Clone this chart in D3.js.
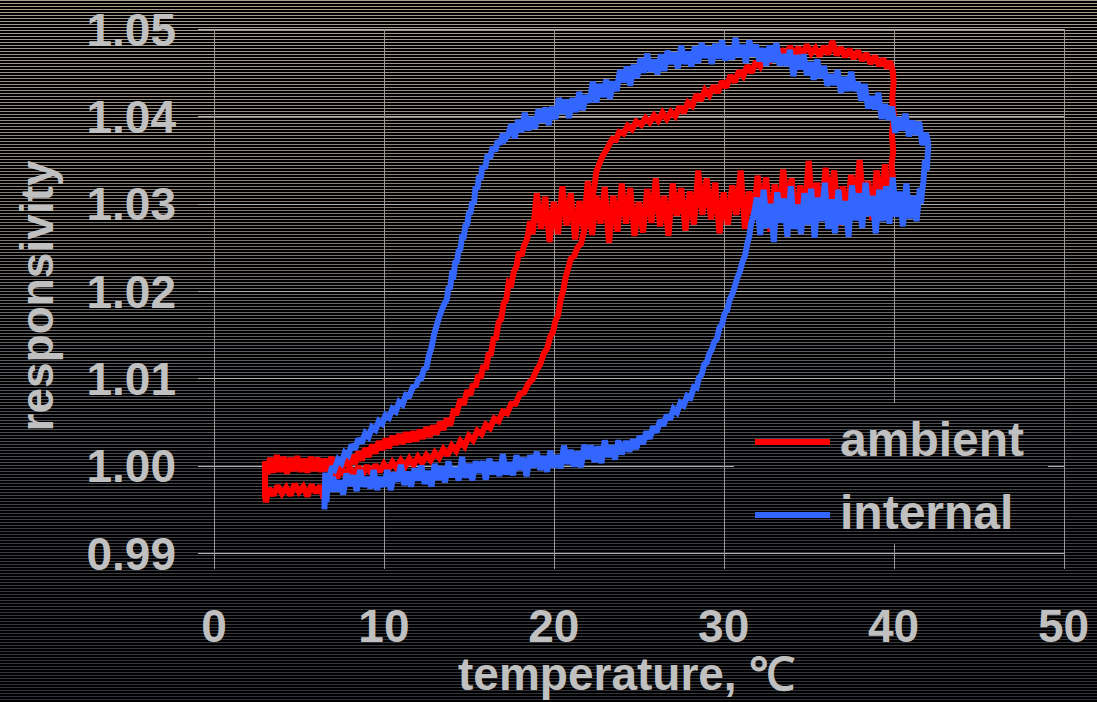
<!DOCTYPE html>
<html><head><meta charset="utf-8">
<script src="https://cdn.jsdelivr.net/npm/d3@7"></script>
<style>html,body{margin:0;padding:0;background:#000;}svg{display:block;}</style>
</head><body>
<svg id="chart" width="1097" height="702"></svg>
<script>
// ---- data ----
const xTicks = [0, 10, 20, 30, 40, 50];
const yTicks = [0.99, 1.00, 1.01, 1.02, 1.03, 1.04, 1.05];
const yTickLabels = ["0.99", "1.00", "1.01", "1.02", "1.03", "1.04", "1.05"];
const seriesNames = ["ambient", "internal"];
const seriesColors = ["#ff0000", "#3366ff"];
const xTitle = "temperature, \u2103";
const yTitle = "responsivity";

// ambient: heating branch [T, V]
const ambientHeat = [[3.00,0.9985],[3.05,0.9958],[3.25,0.9974],[3.50,0.9966],[3.75,0.9977],[4.00,0.9968],[4.25,0.9975],[4.50,0.9966],[4.75,0.9979],[5.00,0.9970],[5.25,0.9976],[5.50,0.9965],[5.75,0.9978],[6.00,0.9969],[6.25,0.9977],[6.45,0.9962],[6.55,0.9990],[6.75,0.9983],[7.00,0.9996],[7.25,0.9986],[7.50,0.9997],[7.75,0.9988],[8.00,0.9998],[8.25,0.9989],[8.50,0.9999],[8.75,0.9990],[9.00,1.0000],[9.25,0.9991],[9.50,1.0001],[9.75,0.9993],[10.00,1.0002],[10.25,0.9995],[10.50,1.0004],[10.75,0.9997],[11.00,1.0006],[11.25,0.9999],[11.50,1.0008],[11.75,1.0001],[12.00,1.0010],[12.25,1.0003],[12.50,1.0012],[12.75,1.0006],[13.00,1.0015],[13.25,1.0009],[13.50,1.0019],[13.75,1.0012],[14.00,1.0023],[14.25,1.0017],[14.50,1.0028],[14.75,1.0022],[15.00,1.0034],[15.25,1.0029],[15.50,1.0040],[15.75,1.0036],[16.00,1.0047],[16.25,1.0043],[16.50,1.0054],[16.75,1.0051],[17.00,1.0062],[17.25,1.0060],[17.50,1.0071],[17.75,1.0071],[18.00,1.0082],[18.25,1.0084],[18.50,1.0094],[18.75,1.0099],[19.00,1.0110],[19.20,1.0116],[19.40,1.0128],[19.60,1.0134],[19.80,1.0148],[19.95,1.0153],[20.10,1.0166],[20.25,1.0172],[20.40,1.0190],[20.55,1.0200],[20.70,1.0216],[20.85,1.0226],[21.00,1.0237],[21.20,1.0240],[21.40,1.0250],[21.60,1.0254],[21.80,1.0270],[21.95,1.0280],[22.10,1.0298],[22.25,1.0304],[22.40,1.0322],[22.50,1.0336],[22.65,1.0344],[22.85,1.0354],[23.05,1.0360],[23.25,1.0367],[23.45,1.0374],[23.65,1.0373],[23.85,1.0382],[24.10,1.0380],[24.35,1.0389],[24.60,1.0385],[24.85,1.0394],[25.15,1.0390],[25.40,1.0398],[25.65,1.0393],[25.90,1.0401],[26.15,1.0395],[26.40,1.0404],[26.65,1.0397],[26.90,1.0405],[27.15,1.0400],[27.40,1.0411],[27.65,1.0404],[27.90,1.0416],[28.15,1.0412],[28.40,1.0425],[28.65,1.0418],[28.90,1.0430],[29.15,1.0424],[29.40,1.0435],[29.65,1.0427],[29.90,1.0440],[30.15,1.0433],[30.40,1.0447],[30.65,1.0439],[30.90,1.0452],[31.15,1.0446],[31.40,1.0458],[31.65,1.0450],[31.90,1.0463],[32.15,1.0457],[32.40,1.0468],[32.65,1.0461],[32.90,1.0472],[33.15,1.0465],[33.40,1.0477],[33.65,1.0469],[33.90,1.0480],[34.15,1.0471],[34.40,1.0479],[34.65,1.0470],[34.90,1.0482],[35.15,1.0472],[35.40,1.0478],[35.65,1.0469],[35.90,1.0480],[36.15,1.0471],[36.40,1.0486],[36.65,1.0470],[36.90,1.0479],[37.15,1.0468],[37.40,1.0477],[37.65,1.0466],[37.90,1.0475],[38.15,1.0464],[38.40,1.0472],[38.65,1.0460],[38.90,1.0469],[39.15,1.0458],[39.40,1.0466],[39.60,1.0455],[39.80,1.0463],[39.95,1.0452],[40.00,1.0440],[39.92,1.0420],[40.02,1.0400],[39.90,1.0380],[39.98,1.0360],[39.88,1.0345],[39.95,1.0330],[39.90,1.0318]];

// ambient: cooling branch [T, V]
const ambientCool = [[39.95,1.0334],[39.75,1.0293],[39.50,1.0345],[39.25,1.0301],[39.00,1.0338],[38.75,1.0281],[38.50,1.0326],[38.25,1.0294],[38.00,1.0350],[37.75,1.0296],[37.50,1.0333],[37.25,1.0283],[37.00,1.0320],[36.75,1.0275],[36.50,1.0338],[36.25,1.0300],[36.00,1.0341],[35.75,1.0286],[35.50,1.0324],[35.25,1.0291],[35.00,1.0349],[34.75,1.0281],[34.50,1.0321],[34.25,1.0277],[34.00,1.0329],[33.75,1.0298],[33.50,1.0339],[33.25,1.0285],[33.00,1.0322],[32.75,1.0268],[32.50,1.0330],[32.25,1.0291],[32.00,1.0332],[31.75,1.0284],[31.50,1.0314],[31.25,1.0271],[31.00,1.0338],[30.75,1.0287],[30.50,1.0321],[30.25,1.0276],[30.00,1.0313],[29.75,1.0266],[29.50,1.0324],[29.25,1.0282],[29.00,1.0329],[28.75,1.0287],[28.50,1.0338],[28.25,1.0276],[28.00,1.0314],[27.75,1.0269],[27.50,1.0318],[27.25,1.0286],[27.00,1.0323],[26.75,1.0263],[26.50,1.0309],[26.25,1.0274],[26.00,1.0329],[25.75,1.0278],[25.50,1.0317],[25.25,1.0267],[25.00,1.0302],[24.75,1.0263],[24.50,1.0318],[24.25,1.0277],[24.00,1.0323],[23.75,1.0268],[23.50,1.0309],[23.25,1.0255],[23.00,1.0319],[22.75,1.0277],[22.50,1.0309],[22.25,1.0264],[22.00,1.0326],[21.75,1.0271],[21.50,1.0303],[21.25,1.0259],[21.00,1.0312],[20.75,1.0275],[20.50,1.0320],[20.25,1.0265],[20.00,1.0302],[19.75,1.0256],[19.50,1.0308],[19.25,1.0271],[19.00,1.0312],[18.75,1.0265],[18.60,1.0280],[18.50,1.0266],[18.40,1.0258],[18.25,1.0252],[18.10,1.0240],[17.95,1.0245],[17.80,1.0228],[17.65,1.0222],[17.50,1.0208],[17.35,1.0210],[17.20,1.0190],[17.05,1.0186],[16.90,1.0168],[16.75,1.0164],[16.60,1.0146],[16.45,1.0145],[16.30,1.0128],[16.15,1.0127],[16.00,1.0110],[15.85,1.0115],[15.70,1.0100],[15.55,1.0104],[15.40,1.0090],[15.25,1.0094],[15.10,1.0081],[14.90,1.0086],[14.70,1.0070],[14.50,1.0076],[14.30,1.0061],[14.10,1.0062],[13.90,1.0046],[13.70,1.0054],[13.50,1.0041],[13.30,1.0050],[13.10,1.0036],[12.90,1.0046],[12.70,1.0033],[12.50,1.0044],[12.30,1.0031],[12.10,1.0041],[11.90,1.0028],[11.70,1.0039],[11.50,1.0027],[11.30,1.0038],[11.10,1.0025],[10.90,1.0036],[10.70,1.0024],[10.50,1.0034],[10.30,1.0020],[10.10,1.0031],[9.90,1.0018],[9.70,1.0028],[9.50,1.0014],[9.30,1.0024],[9.10,1.0010],[8.90,1.0020],[8.70,1.0006],[8.50,1.0016],[8.30,1.0002],[8.10,1.0012],[7.90,0.9999],[7.70,1.0010],[7.50,0.9997],[7.30,1.0009],[7.10,0.9995],[6.90,1.0010],[6.70,0.9994],[6.50,1.0008],[6.30,0.9993],[6.10,1.0009],[5.90,0.9994],[5.70,1.0010],[5.50,0.9992],[5.30,1.0008],[5.10,0.9993],[4.90,1.0011],[4.70,0.9994],[4.50,1.0009],[4.30,0.9991],[4.10,1.0010],[3.90,0.9993],[3.70,1.0012],[3.50,0.9992],[3.30,1.0009],[3.15,0.9990],[3.00,1.0005],[3.00,0.9962]];

// internal: heating branch [T, V]
const internalHeat = [[6.50,0.9950],[6.55,0.9992],[6.62,0.9958],[6.70,0.9988],[6.85,0.9970],[7.00,0.9987],[7.20,0.9971],[7.40,0.9983],[7.60,0.9967],[7.80,0.9991],[8.00,0.9977],[8.20,0.9989],[8.40,0.9971],[8.60,0.9995],[8.80,0.9976],[9.00,0.9987],[9.20,0.9974],[9.40,0.9995],[9.60,0.9972],[9.80,0.9987],[10.00,0.9976],[10.20,0.9995],[10.40,0.9972],[10.60,0.9992],[10.80,0.9982],[11.00,1.0001],[11.20,0.9978],[11.40,0.9993],[11.60,0.9976],[11.80,0.9997],[12.00,0.9983],[12.20,1.0000],[12.40,0.9979],[12.60,0.9994],[12.80,0.9976],[13.00,1.0002],[13.20,0.9984],[13.40,0.9999],[13.60,0.9981],[13.80,1.0005],[14.00,0.9987],[14.20,0.9998],[14.40,0.9983],[14.60,1.0010],[14.80,0.9986],[15.00,1.0002],[15.20,0.9983],[15.40,1.0005],[15.60,0.9992],[15.80,1.0005],[16.00,0.9984],[16.20,1.0008],[16.40,0.9990],[16.60,1.0004],[16.80,0.9988],[17.00,1.0013],[17.20,0.9990],[17.40,1.0004],[17.60,0.9989],[17.80,1.0012],[18.00,0.9995],[18.20,1.0009],[18.40,0.9988],[18.60,1.0012],[18.80,0.9998],[19.00,1.0016],[19.20,0.9995],[19.40,1.0011],[19.60,0.9993],[19.80,1.0017],[20.00,0.9998],[20.20,1.0012],[20.40,0.9997],[20.60,1.0023],[20.80,1.0002],[21.00,1.0018],[21.20,0.9999],[21.40,1.0016],[21.60,0.9998],[21.80,1.0024],[22.00,1.0008],[22.20,1.0023],[22.40,1.0004],[22.60,1.0022],[22.80,1.0003],[23.00,1.0029],[23.20,1.0010],[23.40,1.0023],[23.60,1.0007],[23.80,1.0029],[24.00,1.0013],[24.25,1.0028],[24.45,1.0016],[24.65,1.0030],[24.85,1.0019],[25.05,1.0034],[25.25,1.0025],[25.45,1.0039],[25.65,1.0031],[25.85,1.0045],[26.05,1.0038],[26.25,1.0052],[26.45,1.0046],[26.65,1.0058],[26.85,1.0053],[27.05,1.0065],[27.25,1.0061],[27.45,1.0072],[27.65,1.0069],[27.85,1.0080],[28.05,1.0078],[28.25,1.0090],[28.40,1.0089],[28.55,1.0101],[28.70,1.0104],[28.85,1.0116],[29.00,1.0118],[29.15,1.0128],[29.30,1.0133],[29.45,1.0142],[29.60,1.0145],[29.75,1.0158],[29.90,1.0162],[30.05,1.0174],[30.20,1.0178],[30.35,1.0190],[30.50,1.0196],[30.65,1.0205],[30.80,1.0215],[30.95,1.0222],[31.10,1.0233],[31.25,1.0240],[31.40,1.0255],[31.50,1.0262],[31.60,1.0276],[31.70,1.0283],[31.80,1.0290],[31.95,1.0307],[32.15,1.0264],[32.35,1.0316],[32.55,1.0272],[32.75,1.0300],[32.95,1.0256],[33.15,1.0313],[33.35,1.0278],[33.55,1.0306],[33.75,1.0262],[33.95,1.0320],[34.15,1.0271],[34.35,1.0299],[34.55,1.0265],[34.75,1.0312],[34.95,1.0276],[35.15,1.0317],[35.35,1.0261],[35.55,1.0307],[35.75,1.0280],[35.95,1.0324],[36.15,1.0271],[36.35,1.0305],[36.55,1.0266],[36.75,1.0316],[36.95,1.0276],[37.15,1.0303],[37.35,1.0262],[37.55,1.0321],[37.75,1.0281],[37.95,1.0312],[38.15,1.0272],[38.35,1.0324],[38.55,1.0286],[38.75,1.0309],[38.95,1.0266],[39.15,1.0316],[39.35,1.0280],[39.55,1.0320],[39.75,1.0277],[39.95,1.0330],[40.15,1.0285],[40.35,1.0314],[40.55,1.0274],[40.75,1.0323],[40.95,1.0283],[41.15,1.0309],[41.35,1.0280],[41.55,1.0318],[41.60,1.0300],[41.75,1.0325],[41.85,1.0350],[41.95,1.0338],[42.05,1.0368]];

// internal: cooling branch [T, V]
const internalCool = [[42.05,1.0368],[41.90,1.0381],[41.70,1.0367],[41.50,1.0394],[41.30,1.0379],[41.10,1.0395],[40.90,1.0377],[40.70,1.0403],[40.50,1.0384],[40.30,1.0399],[40.10,1.0381],[39.90,1.0411],[39.70,1.0396],[39.50,1.0414],[39.30,1.0397],[39.10,1.0427],[38.90,1.0408],[38.70,1.0423],[38.50,1.0409],[38.30,1.0437],[38.10,1.0418],[37.90,1.0439],[37.70,1.0429],[37.50,1.0451],[37.30,1.0429],[37.10,1.0445],[36.90,1.0427],[36.70,1.0453],[36.50,1.0436],[36.30,1.0448],[36.10,1.0435],[35.90,1.0458],[35.70,1.0444],[35.50,1.0465],[35.30,1.0442],[35.10,1.0462],[34.90,1.0447],[34.70,1.0471],[34.50,1.0454],[34.30,1.0470],[34.10,1.0446],[33.90,1.0476],[33.70,1.0458],[33.50,1.0471],[33.30,1.0458],[33.10,1.0484],[32.90,1.0462],[32.70,1.0481],[32.50,1.0458],[32.30,1.0478],[32.10,1.0463],[31.90,1.0482],[31.70,1.0469],[31.50,1.0487],[31.30,1.0461],[31.10,1.0482],[30.90,1.0468],[30.70,1.0490],[30.50,1.0465],[30.30,1.0480],[30.10,1.0464],[29.90,1.0487],[29.70,1.0466],[29.50,1.0483],[29.30,1.0460],[29.10,1.0480],[28.90,1.0467],[28.70,1.0484],[28.50,1.0461],[28.30,1.0480],[28.10,1.0457],[27.90,1.0474],[27.70,1.0460],[27.50,1.0481],[27.30,1.0455],[27.10,1.0473],[26.90,1.0460],[26.70,1.0475],[26.50,1.0452],[26.30,1.0471],[26.10,1.0448],[25.90,1.0465],[25.70,1.0451],[25.50,1.0472],[25.30,1.0450],[25.10,1.0466],[24.90,1.0444],[24.70,1.0459],[24.50,1.0435],[24.30,1.0457],[24.10,1.0439],[23.90,1.0453],[23.70,1.0429],[23.50,1.0440],[23.30,1.0420],[23.10,1.0442],[22.90,1.0422],[22.70,1.0437],[22.50,1.0416],[22.30,1.0440],[22.10,1.0416],[21.90,1.0424],[21.70,1.0407],[21.50,1.0428],[21.30,1.0405],[21.10,1.0421],[20.90,1.0398],[20.70,1.0419],[20.50,1.0403],[20.30,1.0421],[20.10,1.0397],[19.90,1.0411],[19.70,1.0390],[19.50,1.0410],[19.30,1.0393],[19.10,1.0408],[18.90,1.0386],[18.70,1.0399],[18.50,1.0384],[18.30,1.0404],[18.10,1.0382],[17.90,1.0396],[17.70,1.0375],[17.50,1.0391],[17.30,1.0378],[17.15,1.0374],[17.00,1.0380],[16.85,1.0368],[16.70,1.0372],[16.55,1.0360],[16.40,1.0365],[16.25,1.0352],[16.10,1.0356],[15.95,1.0340],[15.80,1.0344],[15.70,1.0328],[15.60,1.0332],[15.50,1.0316],[15.40,1.0320],[15.30,1.0300],[15.20,1.0302],[15.10,1.0290],[15.00,1.0289],[14.90,1.0276],[14.80,1.0275],[14.70,1.0262],[14.60,1.0262],[14.50,1.0248],[14.40,1.0246],[14.30,1.0234],[14.20,1.0233],[14.10,1.0218],[14.00,1.0219],[13.90,1.0204],[13.80,1.0203],[13.70,1.0190],[13.55,1.0185],[13.40,1.0178],[13.25,1.0170],[13.10,1.0160],[12.95,1.0150],[12.80,1.0135],[12.65,1.0126],[12.50,1.0112],[12.35,1.0110],[12.20,1.0100],[12.05,1.0099],[11.90,1.0092],[11.70,1.0090],[11.50,1.0080],[11.30,1.0081],[11.10,1.0070],[10.90,1.0073],[10.70,1.0062],[10.50,1.0065],[10.30,1.0055],[10.10,1.0058],[9.90,1.0048],[9.70,1.0051],[9.50,1.0041],[9.30,1.0044],[9.10,1.0033],[8.90,1.0037],[8.70,1.0026],[8.50,1.0031],[8.30,1.0019],[8.10,1.0024],[7.90,1.0012],[7.70,1.0015],[7.50,1.0003],[7.30,1.0007],[7.10,0.9996],[6.95,0.9999],[6.80,0.9987],[6.65,0.9990],[6.55,0.9975]];

// ---- drawing ----
const W = 1097, H = 702;
const svg = d3.select("#chart");
const x = d3.scaleLinear().domain([0, 50]).range([214, 1063.5]);
const y = d3.scaleLinear().domain([0.99, 1.05]).range([553, 29]);
const textCol = "#c0c0c0";
const font = "'Liberation Sans', Arial, Helvetica, sans-serif";

svg.append("rect").attr("width", W).attr("height", H).attr("fill", "#000");

const stripeColor = d3.piecewise(d3.interpolateRgb, ["#ab9d8c", "#8c8074", "#5c5c62", "#3c3d45", "#303139"]);
function drawStripes(g, x0, x1, y0, y1) {
  for (let yy = 0; yy < H; yy += 3) {
    if (yy < y0 || yy > y1) continue;
    g.append("line").attr("x1", x0).attr("x2", x1)
      .attr("y1", yy + 0.5).attr("y2", yy + 0.5)
      .attr("stroke", stripeColor(yy / H)).attr("stroke-width", 1);
  }
}
drawStripes(svg.append("g"), 0, W, 0, H);

// gridlines
const grid = svg.append("g");
grid.selectAll("line.h").data(yTicks).join("line")
  .attr("x1", 198).attr("x2", x(50) + 0.5)
  .attr("y1", d => Math.round(y(d)) + 0.5).attr("y2", d => Math.round(y(d)) + 0.5)
  .attr("stroke", "#b0b0b0").attr("stroke-width", 1);
grid.selectAll("line.v").data(xTicks).join("line")
  .attr("x1", d => Math.round(x(d)) + 0.5).attr("x2", d => Math.round(x(d)) + 0.5)
  .attr("y1", y(1.05)).attr("y2", 569)
  .attr("stroke", "#9a9a9a").attr("stroke-width", 1);

// legend box (hides gridlines)
const lgX0 = 734, lgX1 = 1048, lgY0 = 403, lgY1 = 543;
svg.append("rect").attr("x", lgX0).attr("y", lgY0).attr("width", lgX1 - lgX0).attr("height", lgY1 - lgY0).attr("fill", "#000");
drawStripes(svg.append("g"), lgX0, lgX1, lgY0, lgY1);

// curves
const line = d3.line().x(d => x(d[0])).y(d => y(d[1]));
const curves = [
  { data: ambientHeat, color: seriesColors[0] },
  { data: ambientCool, color: seriesColors[0] },
  { data: internalHeat, color: seriesColors[1] },
  { data: internalCool, color: seriesColors[1] }
];
svg.append("g").selectAll("path").data(curves).join("path")
  .attr("d", d => line(d.data))
  .attr("fill", "none").attr("stroke", d => d.color)
  .attr("stroke-width", 6).attr("stroke-linejoin", "miter").attr("stroke-miterlimit", 2);

// tick labels
svg.append("g").selectAll("text").data(yTicks).join("text")
  .attr("x", 176).attr("y", d => y(d) + 16.5)
  .attr("text-anchor", "end")
  .attr("font-family", font).attr("font-weight", "bold").attr("font-size", 46)
  .attr("fill", textCol)
  .text((d, i) => yTickLabels[i]);
svg.append("g").selectAll("text").data(xTicks).join("text")
  .attr("x", d => x(d)).attr("y", 642)
  .attr("text-anchor", "middle")
  .attr("font-family", font).attr("font-weight", "bold").attr("font-size", 46)
  .attr("fill", textCol)
  .text(d => d);

// axis titles
svg.append("text").attr("x", 458).attr("y", 690)
  .attr("font-family", font).attr("font-weight", "bold").attr("font-size", 46)
  .attr("fill", textCol).text(xTitle);
svg.append("text").attr("transform", "translate(53,296) rotate(-90)")
  .attr("text-anchor", "middle")
  .attr("font-family", font).attr("font-weight", "bold").attr("font-size", 46)
  .attr("fill", textCol).text(yTitle);

// legend
const lg = svg.append("g");
const lgRows = [442, 515];
seriesNames.forEach((name, i) => {
  lg.append("line").attr("x1", 755).attr("x2", 830)
    .attr("y1", lgRows[i]).attr("y2", lgRows[i])
    .attr("stroke", seriesColors[i]).attr("stroke-width", 6);
  lg.append("text").attr("x", 840).attr("y", lgRows[i] + 14)
    .attr("font-family", font).attr("font-weight", "bold").attr("font-size", 48)
    .attr("fill", textCol).text(name);
});
</script>
</body></html>
